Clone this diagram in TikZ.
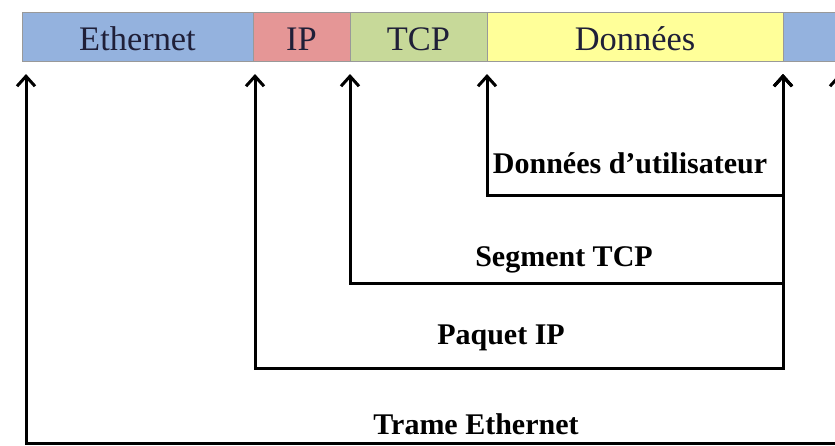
\documentclass[tikz,border=0pt]{standalone}
\usepackage{fontspec}
\setmainfont{Liberation Serif}
\usepackage{tikz}
\usetikzlibrary{positioning,calc,arrows.meta}
\definecolor{ethblue}{rgb}{0.58, 0.70, 0.87}
\definecolor{ipred}{rgb}{0.90, 0.59, 0.59}
\definecolor{tcpgreen}{rgb}{0.78, 0.85, 0.60}
\definecolor{datayellow}{rgb}{1.0, 1.0, 0.60}
\definecolor{barink}{rgb}{0.12, 0.12, 0.22}

\tikzset{
	seg/.style={draw=black!40, line width=0.5pt, outer sep=0pt, minimum height=24.5pt, inner sep=0pt, text height=13.5pt, text depth=0pt, text=barink, font=\fontsize{17.2}{20}\selectfont},
	link/.style={line width=1.5pt, {Straight Barb[length=5pt,width=9pt]}-{Straight Barb[length=5pt,width=9pt]}},
	lbl/.style={font=\fontsize{15}{18}\selectfont\bfseries}
}

\begin{document}
\begin{tikzpicture}[x=0.5pt,y=-0.5pt]
	\useasboundingbox (0,0) rectangle (835,445);
	\clip (0,0) rectangle (835,445);
	
	% the frame
	\node[seg, fill=ethblue, minimum width=115.5pt, anchor=north west] (eth) at (22,12) {Ethernet};
	\node[seg, fill=ipred, minimum width=48.5pt, right=0pt of eth] (ip) {IP};
	\node[seg, fill=tcpgreen, minimum width=68.5pt, right=0pt of ip] (tcp) {TCP};
	\node[seg, fill=datayellow, minimum width=148pt, right=0pt of tcp] (data) {Données};
	\node[seg, fill=ethblue, minimum width=60pt, right=0pt of data] (fcs) {};
	
	% levels of the brackets
	\coordinate (userlvl) at (0,195);
	\coordinate (seglvl) at (0,283);
	\coordinate (pktlvl) at (0,368);
	\coordinate (frmlvl) at (0,443);
	\coordinate (nexthdr) at (839,74);
	
	\draw[link] ([yshift=-6.5pt]data.south west) |- (userlvl -| fcs.south west) -- ([yshift=-6.5pt]fcs.south west);
	\draw[link] ([yshift=-6.5pt]tcp.south west) |- (seglvl -| fcs.south west) -- ([yshift=-6.5pt]fcs.south west);
	\draw[link] ([xshift=1pt,yshift=-6.5pt]ip.south west) |- (pktlvl -| fcs.south west) -- ([yshift=-6.5pt]fcs.south west);
	\draw[link] ([xshift=2pt,yshift=-6.5pt]eth.south west) |- (frmlvl -| nexthdr) -- (nexthdr);
	
	\node[lbl] (userlbl) at (630,163) {Données d'utilisateur};
	\node[lbl] (seglbl) at (564,260) {Segment TCP};
	\node[lbl] (pktlbl) at (501,338) {Paquet IP};
	\node[lbl] (frmlbl) at (476,424) {Trame Ethernet};
\end{tikzpicture}
\end{document}
